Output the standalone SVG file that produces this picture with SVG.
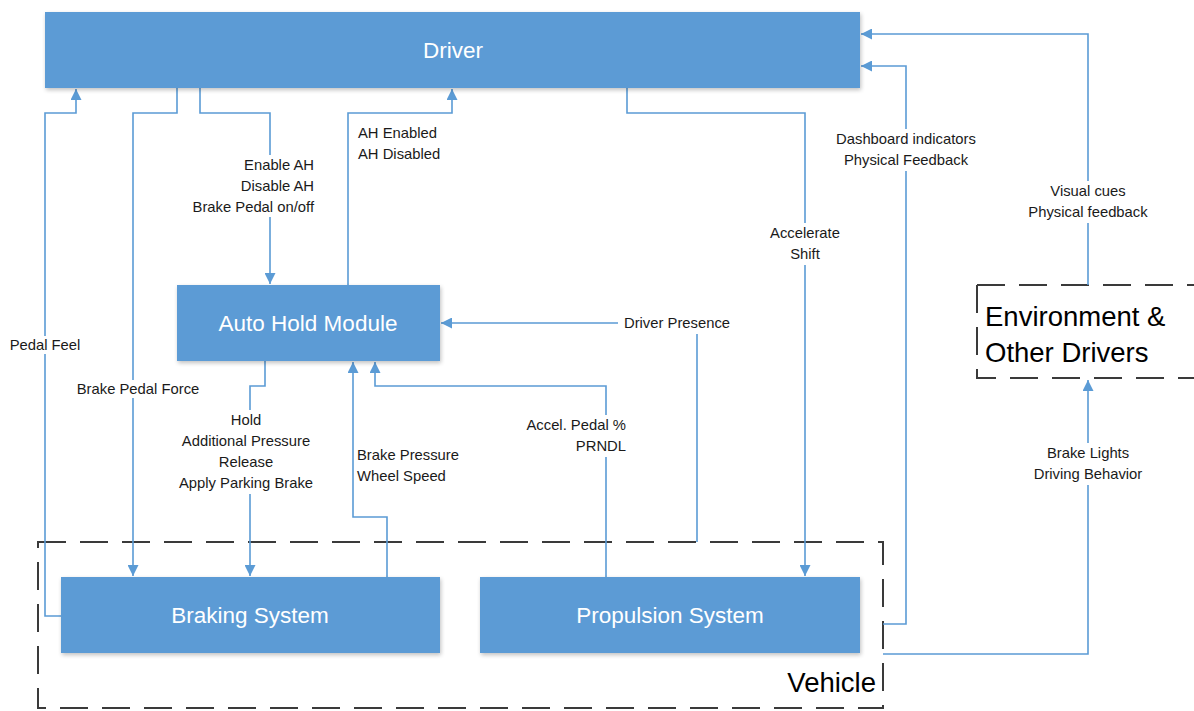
<svg xmlns="http://www.w3.org/2000/svg" width="1194" height="711" viewBox="0 0 1194 711">
  <style>
    .box { fill: #5b9bd5; filter: url(#shadow); }
    .title { fill: #ffffff; font-family: "Liberation Sans", Arial, sans-serif; font-size: 22.5px; text-anchor: middle; }
    .lbl { fill: #1a1a1a; font-family: "Liberation Sans", Arial, sans-serif; font-size: 14.8px; }
    .bg { fill: #ffffff; }
    .wire { fill: none; stroke: #5b9bd5; stroke-width: 1.6; }
    .arrow { marker-end: url(#head); }
    .dash { fill: none; stroke: #3a3a3a; stroke-width: 2; stroke-dasharray: 28 14; }
    .big { fill: #000000; font-family: "Liberation Sans", Arial, sans-serif; font-size: 27.5px; }
  </style>
  <defs>
    <marker id="head" viewBox="0 0 10 10" refX="10" refY="5" markerWidth="11" markerHeight="11" markerUnits="userSpaceOnUse" orient="auto">
      <path d="M0,0 L10,5 L0,10 Z" fill="#5b9bd5"/>
    </marker>
    <filter id="shadow" x="-5%" y="-10%" width="110%" height="130%">
      <feGaussianBlur in="SourceAlpha" stdDeviation="2"/>
      <feOffset dx="1" dy="2" result="b"/>
      <feComponentTransfer><feFuncA type="linear" slope="0.25"/></feComponentTransfer>
      <feMerge><feMergeNode/><feMergeNode in="SourceGraphic"/></feMerge>
    </filter>
  </defs>

  <rect width="1194" height="711" fill="#ffffff"/>

  <!-- containers -->
  <g id="vehicle">
    <rect class="dash" x="38" y="542" width="845" height="166"/>
    <text class="big" x="876" y="692" text-anchor="end">Vehicle</text>
  </g>
  <g id="environment">
    <path class="dash" d="M977,285 H1210 M977,285 V378 H1210"/>
    <text class="big" x="985" y="326">Environment &amp;</text>
    <text class="big" x="985" y="362">Other Drivers</text>
  </g>

  <!-- connectors -->
  <g id="connectors">
    <path class="wire arrow" d="M61,616 H45 V113 H76 V89"/>
    <path class="wire arrow" d="M177,88 V113 H133 V576"/>
    <path class="wire arrow" d="M200,88 V113 H270 V284"/>
    <path class="wire arrow" d="M348,285 V113 H452 V89"/>
    <path class="wire arrow" d="M627,88 V113 H805 V576"/>
    <path class="wire arrow" d="M883,624 H906 V66 H861"/>
    <path class="wire arrow" d="M1088,285 V34 H861"/>
    <path class="wire arrow" d="M883,654 H1088 V380"/>
    <path class="wire arrow" d="M697,542 V323 H441"/>
    <path class="wire arrow" d="M606,577 V386 H375 V362"/>
    <path class="wire arrow" d="M387,577 V517 H353 V362"/>
    <path class="wire arrow" d="M265,361 V386 H250 V576"/>
  </g>

  <!-- connector labels -->
  <g id="labels">
    <rect class="bg" x="6" y="336" width="80" height="18"/>
    <text class="lbl" x="45" y="350" text-anchor="middle">Pedal Feel</text>

    <rect class="bg" x="72" y="380" width="132" height="18"/>
    <text class="lbl" x="138" y="394" text-anchor="middle">Brake Pedal Force</text>

    <rect class="bg" x="176" y="155" width="140" height="62"/>
    <text class="lbl" x="314" y="170" text-anchor="end">Enable AH</text>
    <text class="lbl" x="314" y="191" text-anchor="end">Disable AH</text>
    <text class="lbl" x="314" y="212" text-anchor="end">Brake Pedal on/off</text>

    <text class="lbl" x="358" y="138">AH Enabled</text>
    <text class="lbl" x="358" y="159">AH Disabled</text>

    <rect class="bg" x="763" y="223" width="84" height="42"/>
    <text class="lbl" x="805" y="238" text-anchor="middle">Accelerate</text>
    <text class="lbl" x="805" y="259" text-anchor="middle">Shift</text>

    <rect class="bg" x="828" y="129" width="156" height="42"/>
    <text class="lbl" x="906" y="144" text-anchor="middle">Dashboard indicators</text>
    <text class="lbl" x="906" y="165" text-anchor="middle">Physical Feedback</text>

    <rect class="bg" x="1018" y="181" width="140" height="42"/>
    <text class="lbl" x="1088" y="196" text-anchor="middle">Visual cues</text>
    <text class="lbl" x="1088" y="217" text-anchor="middle">Physical feedback</text>

    <rect class="bg" x="1024" y="443" width="128" height="42"/>
    <text class="lbl" x="1088" y="458" text-anchor="middle">Brake Lights</text>
    <text class="lbl" x="1088" y="479" text-anchor="middle">Driving Behavior</text>

    <rect class="bg" x="618" y="314" width="118" height="20"/>
    <text class="lbl" x="677" y="328" text-anchor="middle">Driver Presence</text>

    <rect class="bg" x="518" y="415" width="110" height="42"/>
    <text class="lbl" x="626" y="430" text-anchor="end">Accel. Pedal %</text>
    <text class="lbl" x="626" y="451" text-anchor="end">PRNDL</text>

    <text class="lbl" x="357" y="460">Brake Pressure</text>
    <text class="lbl" x="357" y="481">Wheel Speed</text>

    <rect class="bg" x="170" y="410" width="152" height="84"/>
    <text class="lbl" x="246" y="425" text-anchor="middle">Hold</text>
    <text class="lbl" x="246" y="446" text-anchor="middle">Additional Pressure</text>
    <text class="lbl" x="246" y="467" text-anchor="middle">Release</text>
    <text class="lbl" x="246" y="488" text-anchor="middle">Apply Parking Brake</text>
  </g>

  <!-- nodes -->
  <g id="driver">
    <rect class="box" x="45" y="12" width="815" height="76"/>
    <text class="title" x="453" y="58">Driver</text>
  </g>
  <g id="auto-hold-module">
    <rect class="box" x="177" y="285" width="263" height="76"/>
    <text class="title" x="308" y="331">Auto Hold Module</text>
  </g>
  <g id="braking-system">
    <rect class="box" x="61" y="577" width="379" height="76"/>
    <text class="title" x="250" y="623">Braking System</text>
  </g>
  <g id="propulsion-system">
    <rect class="box" x="480" y="577" width="380" height="76"/>
    <text class="title" x="670" y="623">Propulsion System</text>
  </g>
</svg>
